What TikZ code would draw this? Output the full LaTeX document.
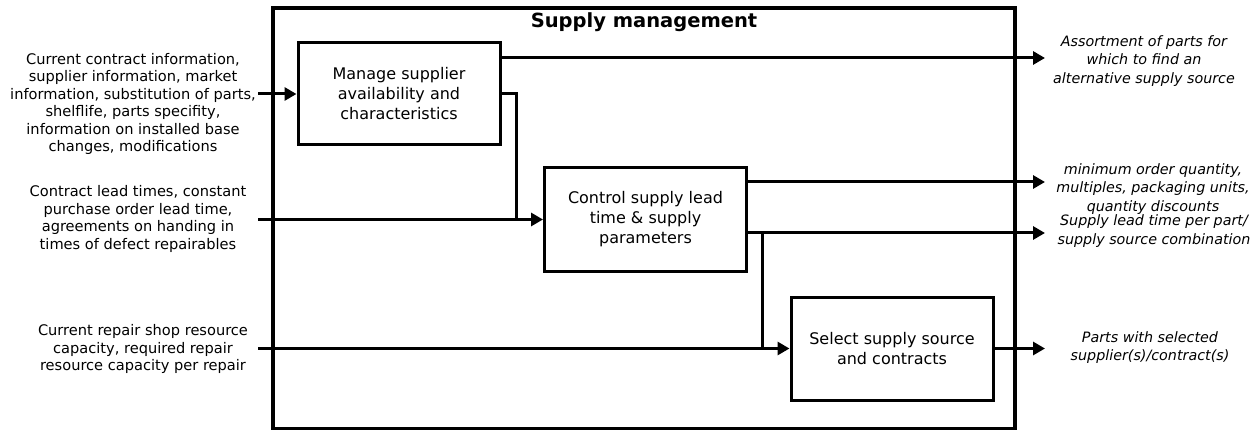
\documentclass[tikz,border=0pt]{standalone}
\usepackage{fontspec}
\setmainfont{DejaVu Sans}
\usetikzlibrary{arrows.meta,calc}
\begin{document}
\begin{tikzpicture}[x=1pt,y=-1pt,
  procbox/.style={draw,line width=3pt,minimum width=202pt,minimum height=102pt,align=center,font=\fontsize{16}{20}\selectfont,inner sep=0pt},
  intext/.style={align=center,font=\fontsize{14.6}{17.4}\selectfont,inner sep=0pt},
  outtext/.style={align=center,font=\fontsize{14.3}{18.2}\selectfont\itshape,inner sep=0pt},
  flow/.style={line width=3pt},
  arr/.style={flow,-{Triangle[length=12pt,width=13pt]}}]
\useasboundingbox (0,0) rectangle (1260,430);
\fill[white] (0,0) rectangle (1260,430);
% frame
\draw[line width=3.5pt] (273,8) rectangle (1015,429);
\node[font=\bfseries\fontsize{19.5}{22}\selectfont] (title) at (644,22) {Supply management};
% process boxes
\node[procbox] (b1) at (399,94) {Manage supplier\\availability and\\characteristics};
\node[procbox,minimum height=103pt] (b2) at (645.5,219.5) {Control supply lead\\time \& supply\\parameters};
\node[procbox,minimum height=103pt] (b3) at (892,348.5) {Select supply source\\and contracts};
% inputs
\node[intext] (in1) at (133,104) {Current contract information,\\supplier information, market\\information, substitution of parts,\\shelflife, parts specifity,\\information on installed base\\changes, modifications};
\node[intext] (in2) at (138,219) {Contract lead times, constant\\purchase order lead time,\\agreements on handing in\\times of defect repairables};
\node[intext] (in3) at (143,349) {Current repair shop resource\\capacity, required repair\\resource capacity per repair};
% outputs
\node[outtext] (o1) at (1144,61) {Assortment of parts for\\which to find an\\alternative supply source};
\node[outtext] (o2) at (1153,189) {minimum order quantity,\\multiples, packaging units,\\quantity discounts};
\node[outtext] (o3) at (1154,231) {Supply lead time per part/\\supply source combination};
\node[outtext] (o4) at (1150,347.5) {Parts with selected\\supplier(s)/contract(s)};
% coordinates
\coordinate (s1) at (258,94);
\coordinate (s2) at (258,219.5);
\coordinate (s3) at (258,348.5);
\coordinate (j1) at (516,219.5);
\coordinate (j2) at (762,348.5);
\coordinate (e1) at (1045,58);
\coordinate (e2) at (1045,182);
\coordinate (e3) at (1045,233);
\coordinate (e4) at (1045,348.5);
% connectors
\draw[arr] (s1) -- (b1.west);
\draw[arr] (s2) -- (b2.west);
\draw[arr] (s3) -- (b3.west);
\draw[flow] (b1.east) -| (j1);
\draw[flow] (b2.east |- e3) -| (j2);
\draw[arr] (b1.east |- e1) -- (e1);
\draw[arr] (b2.east |- e2) -- (e2);
\draw[arr] (b2.east |- e3) -- (e3);
\draw[arr] (b3.east) -- (e4);
\end{tikzpicture}
\end{document}
